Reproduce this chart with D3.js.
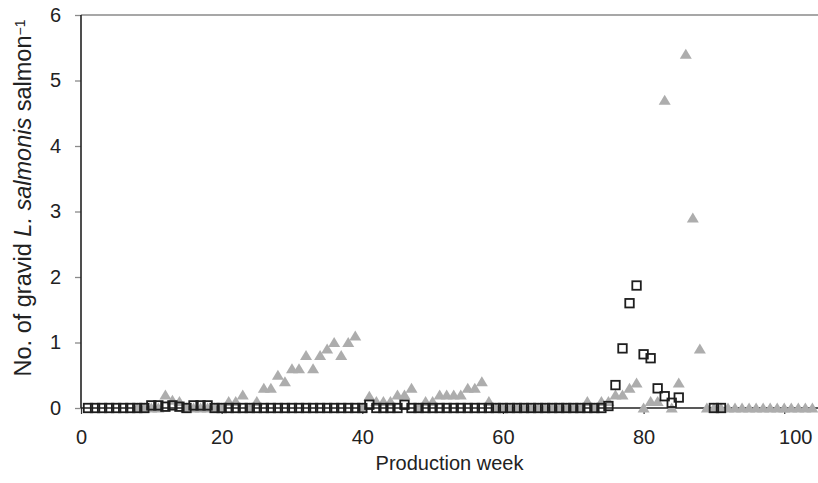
<!DOCTYPE html>
<html>
<head>
<meta charset="utf-8">
<script src="https://cdn.jsdelivr.net/npm/d3@7/dist/d3.min.js"></script>
<style>
    body { margin: 0; background: #fff; }
    svg { display: block; font-family: "Liberation Sans", Arial, sans-serif; }
</style>
</head>
<body>
<div id="chart"></div>
<script>

// production weeks (x)
var weeks = [1, 2, 3, 4, 5, 6, 7, 8, 9, 10, 11, 12, 13, 14, 15, 16, 17, 18, 19, 20,
    21, 22, 23, 24, 25, 26, 27, 28, 29, 30, 31, 32, 33, 34, 35, 36, 37, 38, 39, 40,
    41, 42, 43, 44, 45, 46, 47, 48, 49, 50, 51, 52, 53, 54, 55, 56, 57, 58, 59, 60,
    61, 62, 63, 64, 65, 66, 67, 68, 69, 70, 71, 72, 73, 74, 75, 76, 77, 78, 79, 80,
    81, 82, 83, 84, 85, 86, 87, 88, 89, 90, 91, 92, 93, 94, 95, 96, 97, 98, 99, 100,
    101, 102, 103, 104];

// open squares (null = no sample)
var squareValues = [0, 0, 0, 0, 0, 0, 0, 0, 0, 0.04, 0.04, 0.02, 0.04, 0.02, 0, 0.04, 0.04, 0.04, 0, 0,
    0, 0, 0, 0, 0, 0, 0, 0, 0, 0, 0, 0, 0, 0, 0, 0, 0, 0, 0, 0,
    0.05, 0, 0, 0, 0, 0.05, 0, 0, 0, 0, 0, 0, 0, 0, 0, 0, 0, 0, 0, 0,
    0, 0, 0, 0, 0, 0, 0, 0, 0, 0, 0, 0, 0, 0, 0.03, 0.35, 0.91, 1.6, 1.87, 0.82,
    0.76, 0.3, 0.18, 0.08, 0.16, null, null, null, null, 0, 0, null, null, null, null, null, null, null, null, null,
    null, null, null, null];

// grey triangles
var triangleValues = [null, null, null, null, null, null, null, 0, 0, 0, 0, 0.2, 0.12, 0.1, 0, 0, 0, 0, 0, 0,
    0.1, 0.1, 0.2, 0, 0.1, 0.3, 0.3, 0.5, 0.4, 0.6, 0.6, 0.8, 0.6, 0.8, 0.9, 1.0, 0.8, 1.0, 1.1, 0,
    0.18, 0.1, 0.1, 0.1, 0.2, 0.2, 0.3, 0, 0.1, 0.1, 0.2, 0.2, 0.2, 0.2, 0.3, 0.3, 0.4, 0.1, 0, 0,
    0, 0, 0, 0, 0, 0, 0, 0, 0, 0, 0, 0.1, 0, 0.1, 0.1, 0.2, 0.2, 0.3, 0.38, 0,
    0.1, 0.1, 4.7, 0, 0.38, 5.4, 2.9, 0.9, 0, 0, 0, 0, 0, 0, 0, 0, 0, 0, 0, 0,
    0, 0, 0, 0];

var xTicks = [0, 20, 40, 60, 80, 100];
var yTicks = [0, 1, 2, 3, 4, 5, 6];

function drawChart() {

    var width = 818;
    var height = 483;

    var margin = {
        top: 15,
        bottom: 75,
        left: 81,
        right: 0
    };

    var x = d3.scaleLinear()
        .domain([0, 104.8])
        .range([margin.left, width - margin.right]);

    var y = d3.scaleLinear()
        .domain([0, 6])
        .range([height - margin.bottom, margin.top]);

    var svg = d3.select("#chart")
        .append("svg")
        .attr("width", width)
        .attr("height", height);

    // top frame line
    svg.append("line")
        .attr("x1", x(0))
        .attr("x2", width)
        .attr("y1", y(6))
        .attr("y2", y(6))
        .style("stroke", "#8a8a8a")
        .style("stroke-width", 1.5);

    // y axis
    var yAxis = svg.append("g")
        .attr("transform", "translate(" + x(0) + ",0)")
        .call(d3.axisLeft(y).tickValues(yTicks).tickSize(6).tickPadding(14).tickFormat(d3.format("d")));

    yAxis.select(".domain").remove();
    yAxis.selectAll(".tick line")
        .style("stroke", "#8a8a8a")
        .style("stroke-width", 1.3);
    yAxis.selectAll(".tick text")
        .style("font-size", "20px")
        .style("fill", "#222")
        .style("font-family", "Liberation Sans, Arial, sans-serif");

    svg.append("line")
        .attr("x1", x(0))
        .attr("x2", x(0))
        .attr("y1", y(6))
        .attr("y2", y(0))
        .style("stroke", "#222")
        .style("stroke-width", 1.6);

    // x axis
    var xAxis = svg.append("g")
        .attr("transform", "translate(0," + y(0) + ")")
        .call(d3.axisBottom(x).tickValues(xTicks).tickSize(6).tickPadding(16).tickFormat(d3.format("d")));

    xAxis.select(".domain").remove();
    xAxis.selectAll(".tick line")
        .style("stroke", "#333")
        .style("stroke-width", 1.2);
    xAxis.selectAll(".tick text")
        .style("font-size", "20px")
        .style("fill", "#222")
        .style("font-family", "Liberation Sans, Arial, sans-serif")
        .attr("dx", function(d) { return d === 100 ? 11 : 0; });

    svg.append("line")
        .attr("x1", x(0))
        .attr("x2", width)
        .attr("y1", y(0))
        .attr("y2", y(0))
        .style("stroke", "#222")
        .style("stroke-width", 1.3);

    // triangles first, squares on top
    var triData = [];
    var sqData = [];
    weeks.forEach(function(w, j) {
        if (triangleValues[j] !== null) triData.push({ week: w, value: triangleValues[j] });
        if (squareValues[j] !== null) sqData.push({ week: w, value: squareValues[j] });
    });

    svg.append("g")
        .attr("class", "triangles")
        .selectAll("path")
        .data(triData)
        .enter()
        .append("path")
        .attr("d", "M0,-5.5L6,4.5L-6,4.5Z")
        .attr("transform", function(d) {
            return "translate(" + x(d.week) + "," + y(d.value) + ")";
        })
        .style("fill", "#adadad");

    var s = 8.5;
    svg.append("g")
        .attr("class", "squares")
        .selectAll("rect")
        .data(sqData)
        .enter()
        .append("rect")
        .attr("x", function(d) { return x(d.week) - s / 2; })
        .attr("y", function(d) { return y(d.value) - s / 2; })
        .attr("width", s)
        .attr("height", s)
        .style("fill", "none")
        .style("stroke", "#1e1e1e")
        .style("stroke-width", 1.8);

    // axis titles
    svg.append("text")
        .attr("x", (x(0) + width) / 2)
        .attr("y", 470)
        .attr("text-anchor", "middle")
        .style("font-size", "20px")
        .style("fill", "#222")
        .text("Production week");

    var yTitle = svg.append("text")
        .attr("transform", "translate(31," + 198 + ") rotate(-90)")
        .attr("text-anchor", "middle")
        .style("font-size", "23.5px")
        .style("fill", "#222");

    yTitle.append("tspan").text("No. of gravid ");
    yTitle.append("tspan").style("font-style", "italic").text("L. salmonis");
    yTitle.append("tspan").text(" salmon");
    yTitle.append("tspan")
        .attr("dy", "-0.45em")
        .style("font-size", "14px")
        .text("\u22121");
}

drawChart();
</script>
</body>
</html>
